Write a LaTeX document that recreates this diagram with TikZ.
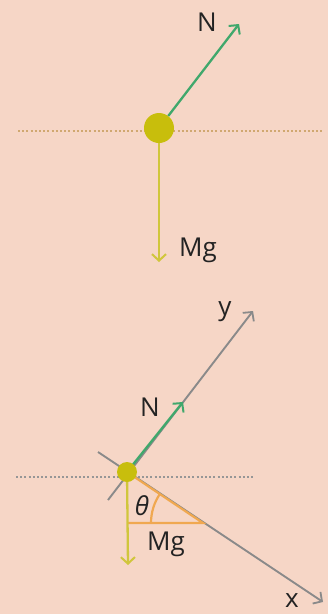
\documentclass[tikz,border=0pt]{standalone}
\usepackage{fontspec}
\setmainfont{Open Sans}
\usetikzlibrary{arrows.meta}
\definecolor{bgc}{RGB}{246,214,198}
\definecolor{ballc}{RGB}{200,190,12}
\definecolor{mgc}{RGB}{208,198,60}
\definecolor{nc}{RGB}{64,168,108}
\definecolor{axc}{RGB}{138,138,138}
\definecolor{tanc}{RGB}{208,168,112}
\definecolor{dotg}{RGB}{150,150,150}
\definecolor{orc}{RGB}{240,168,80}
\definecolor{txt}{RGB}{35,35,35}
\tikzset{
  ball/.style={circle, fill=ballc, inner sep=0pt},
  vec/.style={line width=2.3pt, -{Straight Barb[length=6.5pt,width=14pt,line width=2pt]}},
  axis/.style={axc, line width=1.9pt, -{Straight Barb[length=6.5pt,width=14pt,line width=1.8pt]}},
  lbl/.style={text=txt, font=\fontsize{26}{30}\selectfont, inner sep=0pt},
  dotline/.style={line width=1.5pt, dash pattern=on 2pt off 2.2pt},
}
\begin{document}
\begin{tikzpicture}[x=1pt,y=-1pt]
\fill[bgc] (0,0) rectangle (328,614);
\useasboundingbox (0,0) rectangle (328,614);
% ---- top diagram ----
\coordinate (tl) at (18,131);
\coordinate (tr) at (323,131);
\draw[dotline, tanc] (tl) -- (tr);
\node[ball, minimum size=30pt] (ball1) at (159,128) {};
\coordinate (n1tip) at (239,24);
\coordinate (mg1tip) at (159,262);
\draw[vec, nc] (ball1) -- (n1tip);
\draw[vec, mgc] (ball1.south) -- (mg1tip);
\node[lbl] (n1) at (207,22) {N};
\node[lbl] (mg1) at (198,250) {Mg};
% ---- bottom diagram ----
\coordinate (bl) at (16,477);
\coordinate (br) at (254,477);
\draw[dotline, dotg] (bl) -- (br);
\coordinate (xs) at (98,452);
\coordinate (xt) at (323,602);
\coordinate (ys) at (108,500);
\coordinate (yt) at (253,311);
\draw[axis] (xs) -- (xt);
\draw[axis] (ys) -- (yt);
\coordinate (c2) at (127,472);
\coordinate (tv) at (203,523);
\coordinate (tb) at (128,523);
\draw[orc, line width=2.2pt] (c2) -- (tv) -- (tb);
\draw[orc, line width=2.2pt] (tv) ++(180:52) arc[start angle=180, end angle=213.7, radius=52];
\coordinate (n2tip) at (183,402);
\coordinate (mg2tip) at (128,565);
\draw[vec, nc] (c2) -- (n2tip);
\draw[vec, mgc] (c2) -- (mg2tip);
\node[ball, minimum size=20pt] (ball2) at (c2) {};
\node[lbl] (n2) at (150,407) {N};
\node[lbl] (yl) at (225,312) {y};
\node[lbl] (xl) at (292,601) {x};
\node[lbl] (th) at (142,506) {\itshape θ};
\node[lbl] (mg2) at (166,544) {Mg};
\end{tikzpicture}
\end{document}
